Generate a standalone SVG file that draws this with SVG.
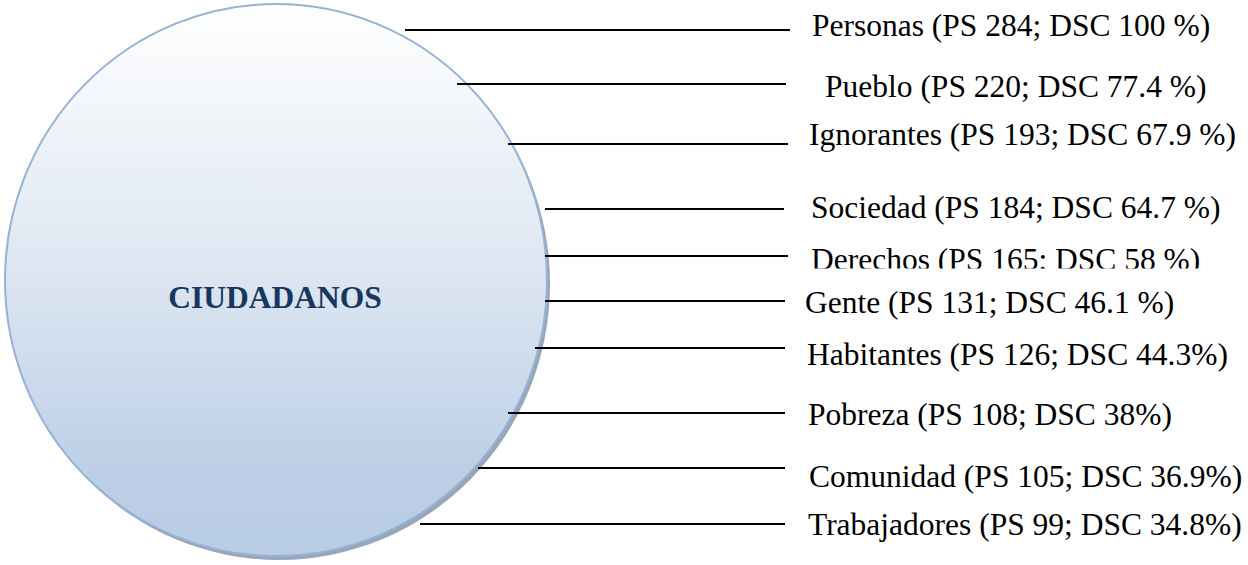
<svg xmlns="http://www.w3.org/2000/svg" width="1248" height="565" viewBox="0 0 1248 565">
<style>
.lbl{font-family:"Liberation Serif","Times New Roman",serif;font-size:31.5px;fill:#000}
.title{font-family:"Liberation Serif","Times New Roman",serif;font-size:31.5px;font-weight:bold;fill:#17375e}
.conn line{stroke:#000;stroke-width:2}
</style>
<defs>
<linearGradient id="fillG" x1="0" y1="0" x2="0" y2="1">
<stop offset="0" stop-color="#ffffff"/>
<stop offset="0.5" stop-color="#dce5f1"/>
<stop offset="0.85" stop-color="#bccfe6"/>
<stop offset="1" stop-color="#b8cce4"/>
</linearGradient>
<clipPath id="clipDer"><rect x="790" y="230" width="450" height="38.5"/></clipPath>
</defs>
<rect width="1248" height="565" fill="#fff"/>
<g id="node-ciudadanos">
<ellipse cx="279" cy="284" rx="271" ry="276" fill="#8d9cb0" opacity="0.9"/>
<ellipse cx="276" cy="280" rx="271" ry="276" fill="url(#fillG)" stroke="#95b3d7" stroke-width="2"/>
<text class="title" x="275" y="308" text-anchor="middle">CIUDADANOS</text>
</g>
<g id="connectors" class="conn">
<line x1="405" y1="30" x2="790" y2="30"/>
<line x1="457" y1="84" x2="786" y2="84"/>
<line x1="508" y1="144" x2="788" y2="144"/>
<line x1="545" y1="209" x2="784" y2="209"/>
<line x1="545" y1="256" x2="788" y2="256"/>
<line x1="545" y1="301" x2="785" y2="301"/>
<line x1="535" y1="348" x2="785" y2="348"/>
<line x1="508" y1="413" x2="785" y2="413"/>
<line x1="478" y1="468" x2="785" y2="468"/>
<line x1="420" y1="524" x2="785" y2="524"/>
</g>
<g id="node-personas"><text class="lbl" x="812" y="36">Personas (PS 284; DSC 100 %)</text></g>
<g id="node-pueblo"><text class="lbl" x="825" y="97">Pueblo (PS 220; DSC 77.4 %)</text></g>
<g id="node-ignorantes"><text class="lbl" x="809" y="145">Ignorantes (PS 193; DSC 67.9 %)</text></g>
<g id="node-sociedad"><text class="lbl" x="811" y="218">Sociedad (PS 184; DSC 64.7 %)</text></g>
<g id="node-derechos" clip-path="url(#clipDer)"><text class="lbl" x="811" y="270">Derechos (PS 165; DSC 58 %)</text></g>
<g id="node-gente"><text class="lbl" x="805" y="313">Gente (PS 131; DSC 46.1 %)</text></g>
<g id="node-habitantes"><text class="lbl" x="807" y="365">Habitantes (PS 126; DSC 44.3%)</text></g>
<g id="node-pobreza"><text class="lbl" x="808" y="425">Pobreza (PS 108; DSC 38%)</text></g>
<g id="node-comunidad"><text class="lbl" x="809" y="487">Comunidad (PS 105; DSC 36.9%)</text></g>
<g id="node-trabajadores"><text class="lbl" x="808" y="535">Trabajadores (PS 99; DSC 34.8%)</text></g>
</svg>
